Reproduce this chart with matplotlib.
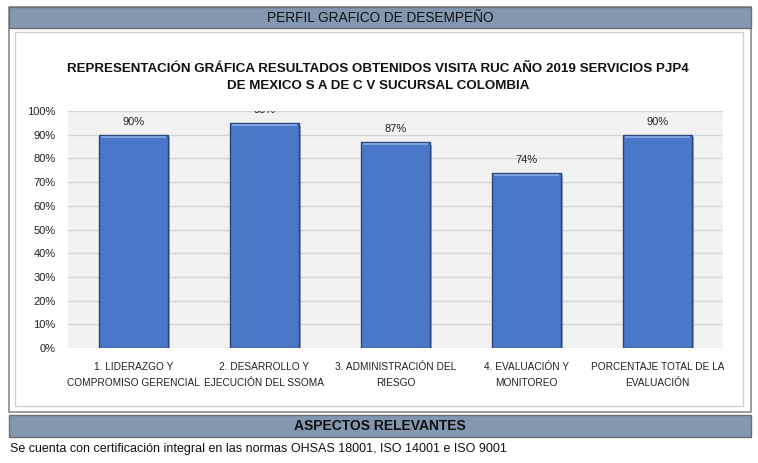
import numpy as np
import matplotlib.pyplot as plt
from matplotlib.patches import Rectangle
from matplotlib import patheffects as pe

# data
categories = ['1. LIDERAZGO Y\nCOMPROMISO GERENCIAL',
              '2. DESARROLLO Y\nEJECUCIÓN DEL SSOMA',
              '3. ADMINISTRACIÓN DEL\nRIESGO',
              '4. EVALUACIÓN Y\nMONITOREO',
              'PORCENTAJE TOTAL DE LA\nEVALUACIÓN']
values = [0.90, 0.95, 0.87, 0.74, 0.90]
yticks = np.arange(0, 1.01, 0.1)

header_text = 'PERFIL GRAFICO DE DESEMPEÑO'
chart_title = ('REPRESENTACIÓN GRÁFICA RESULTADOS OBTENIDOS VISITA RUC AÑO 2019 SERVICIOS PJP4\n'
               'DE MEXICO S A DE C V SUCURSAL COLOMBIA')
aspects_title = 'ASPECTOS RELEVANTES'
aspects_text = 'Se cuenta con certificación integral en las normas OHSAS 18001, ISO 14001 e ISO 9001'

plt.rcParams['font.family'] = ['Liberation Sans', 'DejaVu Sans']

W, H = 758, 463
fig = plt.figure(figsize=(W / 100, H / 100), dpi=100)


def box(x0, y0, x1, y1, **kw):
    # pixel box (top-left origin) -> figure rectangle
    r = Rectangle((x0 / W, 1 - y1 / H), (x1 - x0) / W, (y1 - y0) / H,
                  transform=fig.transFigure, zorder=0, **kw)
    fig.patches.append(r)


def ftext(x, y, s, **kw):
    fig.text(x / W, 1 - y / H, s, **kw)


# outer frame and header bars
box(9, 7, 751, 412, facecolor='white', edgecolor='#8c8c8c', linewidth=1.2)
box(15, 32, 743, 406, facecolor='white', edgecolor='#d0d0d0', linewidth=1)
box(9, 7, 751, 28, facecolor='#8497b0', edgecolor='#6d6d6d', linewidth=1)
box(9, 415, 751, 437, facecolor='#8497b0', edgecolor='#6d6d6d', linewidth=1)

ftext(380, 18.5, header_text, ha='center', va='center', fontsize=9.8, color='#111111')
ftext(380, 426.5, aspects_title, ha='center', va='center', fontsize=10, fontweight='bold',
      color='#111111')
ftext(10, 449, aspects_text, ha='left', va='center', fontsize=9, color='#111111')
ftext(378, 77.5, chart_title, ha='center', va='center', fontsize=9.6, fontweight='bold',
      color='#111111', linespacing=1.55)

# plot area
ax = fig.add_axes([68 / W, 1 - 348 / H, (723 - 68) / W, (348 - 111) / H])
ax.set_zorder(2)
ax.set_facecolor('#f2f2f2')
x = np.arange(len(categories))
bars = ax.bar(x, values, width=0.52, color='#4a77c8', edgecolor='#2a4577', linewidth=1,
              zorder=3)
for b in bars:
    b.set_path_effects([pe.withSimplePatchShadow(offset=(2, -2), alpha=0.35)])
    # light bevel strip along the top
    ax.plot([b.get_x() + 0.02, b.get_x() + b.get_width() - 0.02],
            [b.get_height() - 0.008] * 2, color='#7da0dc', lw=1.5, zorder=4)

for xi, v in zip(x, values):
    ax.text(xi, v + 0.055, '{:.0%}'.format(v), ha='center', va='center', fontsize=8,
            color='#222222', clip_on=True, zorder=5)

ax.set_xlim(-0.5, len(categories) - 0.5)
ax.set_ylim(0, 1.0)
ax.set_yticks(yticks)
ax.set_yticklabels(['{:.0%}'.format(t) for t in yticks], fontsize=8)
ax.set_xticks(x)
ax.set_xticklabels(categories, fontsize=7.3, linespacing=1.8)
ax.tick_params(axis='x', length=0, pad=10, colors='#222222')
ax.tick_params(axis='y', length=0, pad=9, colors='#222222')
ax.grid(axis='y', color='#d4d4d4', linewidth=1, zorder=0)
ax.set_axisbelow(True)
for s in ax.spines.values():
    s.set_visible(False)

fig.savefig('out.png', dpi=100)
